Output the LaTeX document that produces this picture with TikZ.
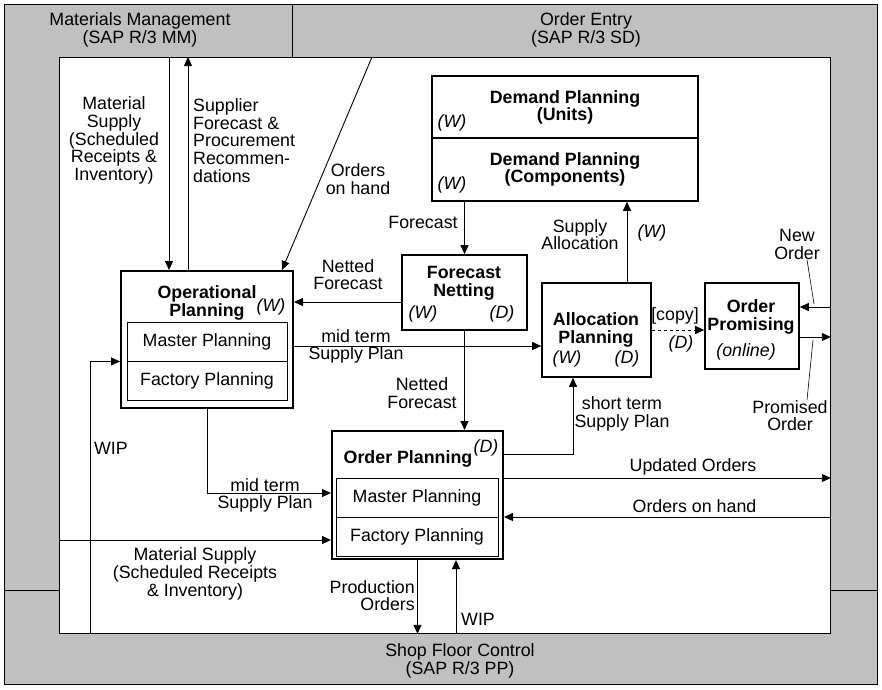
\documentclass[tikz,border=0pt]{standalone}
\usepackage{fontspec}
\setmainfont{Liberation Sans}
\usetikzlibrary{arrows.meta}
\definecolor{bandgray}{HTML}{C0C0C0}
\newcommand{\dsize}{\fontsize{17.8}{17.7}\selectfont}
\begin{document}
\begin{tikzpicture}[x=1pt,y=-1pt,font=\dsize,
  box/.style={draw,line width=1.6pt,inner sep=0pt},
  sub/.style={draw,line width=0.9pt,inner sep=0pt,minimum width=#1,minimum height=39pt},
  flow/.style={line width=0.9pt,-{Triangle[length=9pt,width=8pt]}},
  lbl/.style={inner sep=0pt,align=center},
  head/.style={inner sep=0pt,align=center,font=\dsize\bfseries},
  tag/.style={inner sep=0pt,font=\dsize\itshape}]
\useasboundingbox (0,0) rectangle (882,689);
% system bands
\fill[bandgray,draw=black,line width=0.8pt] (4,4) rectangle (877,684);
\draw[line width=0.8pt] (292,4) -- (292,57);
\draw[line width=0.8pt] (4,590) -- (59,590) (830,590) -- (877,590);
\node[draw,fill=white,line width=0.8pt,minimum width=771pt,minimum height=576pt,anchor=north west,inner sep=0pt] (work) at (59,57) {};
\node[lbl] (mm) at (140,30) {Materials Management\\(SAP R/3 MM)};
\node[lbl] (oe) at (586,30) {Order Entry\\(SAP R/3 SD)};
\node[lbl] (sfc) at (460,661) {Shop Floor Control\\(SAP R/3 PP)};
% planning boxes
\node[box,minimum width=266pt,minimum height=62pt] (dpu) at (565,107) {};
\node[box,minimum width=266pt,minimum height=63pt] (dpc) at (565,169.5) {};
\node[head] (dpuT) at (565,107.5) {Demand Planning\\(Units)};
\node[tag] (dpuW) at (452,123) {(W)};
\node[head] (dpcT) at (565,169.5) {Demand Planning\\(Components)};
\node[tag] (dpcW) at (452,185) {(W)};
\node[box,line width=2pt,minimum width=172pt,minimum height=137pt] (op) at (207,339.5) {};
\node[head] (opT) at (207,303) {Operational\\Planning};
\node[tag] (opW) at (271,307) {(W)};
\node[sub=160pt] (opm) at (207,341.5) {Master Planning};
\node[sub=160pt] (opf) at (207,380.5) {Factory Planning};
\node[box,minimum width=125pt,minimum height=75pt] (fn) at (464.5,292.5) {};
\node[head] (fnT) at (464,283) {Forecast\\Netting};
\node[tag] (fnW) at (423,314) {(W)};
\node[tag] (fnD) at (502,314) {(D)};
\node[box,minimum width=109pt,minimum height=94pt] (ap) at (596.5,330) {};
\node[head] (apT) at (596,330) {Allocation\\Planning};
\node[tag] (apW) at (567,359) {(W)};
\node[tag] (apD) at (627,359) {(D)};
\node[box,minimum width=94pt,minimum height=86pt] (opr) at (752,326) {};
\node[head] (oprT) at (751,317) {Order\\Promising};
\node[tag] (oprO) at (746,352) {(online)};
\node[box,line width=2pt,minimum width=171pt,minimum height=128pt] (ordp) at (417.5,495) {};
\node[head] (ordpT) at (408,459) {Order Planning};
\node[tag] (ordpD) at (486,448) {(D)};
\node[sub=162pt] (ordpm) at (417,497.5) {Master Planning};
\node[sub=162pt] (ordpf) at (417,536.5) {Factory Planning};
% connector ends
\coordinate (mmDown) at (169,57);
\coordinate (mmUp) at (188,57);
\coordinate (oeOrd) at (372,57);
\coordinate (opOrd) at (282,270);
\coordinate (nfY) at (0,302);
\coordinate (mtY) at (0,346);
\coordinate (saX) at (627,0);
\coordinate (noY) at (0,307);
\coordinate (poY) at (0,337);
\coordinate (st) at (573,454);
\coordinate (mt) at (0,493);
\coordinate (uoY) at (0,478);
\coordinate (ohY) at (0,517);
\coordinate (msY) at (0,540);
\coordinate (wipX) at (90,0);
\coordinate (wipY) at (456,0);
\coordinate (noTip) at (814,304);
\coordinate (poTip) at (813,340);
% flows
\draw[flow] (mmDown) -- (mmDown |- op.north);
\draw[flow] (mmUp |- op.north) -- (mmUp);
\draw[flow] (oeOrd) -- (opOrd);
\draw[flow] (fn.north |- dpc.south) -- (fn.north);
\draw[flow] (fn.west |- nfY) -- (op.east |- nfY);
\draw[flow] (op.east |- mtY) -- (ap.west |- mtY);
\draw[flow] (fn.south) -- (fn.south |- ordp.north);
\draw[flow] (ap.north -| saX) -- (dpc.south -| saX);
\draw[flow,dashed] (ap.east) -- (opr.west |- ap.east);
\draw[flow] (work.east |- noY) -- (opr.east |- noY);
\draw[flow] (opr.east |- poY) -- (work.east |- poY);
\draw[flow] (ordp.east |- st) -| (st |- ap.south);
\draw[flow] (op.south) |- (ordp.west |- mt);
\draw[flow] (ordp.east |- uoY) -- (work.east |- uoY);
\draw[flow] (work.east |- ohY) -- (ordp.east |- ohY);
\draw[flow] (work.west |- msY) -- (ordp.west |- msY);
\draw[flow] (wipX |- work.south) |- (op.west |- opm.south);
\draw[flow] (ordp.south) -- (ordp.south |- work.south);
\draw[flow] (wipY |- work.south) -- (wipY |- ordp.south);
% flow labels
\node[lbl] (msA) at (114,140.5) {Material\\Supply\\(Scheduled\\Receipts \&\\Inventory)};
\node[lbl,align=left,anchor=west] (sfA) at (193,140.5) {Supplier\\Forecast \&\\Procurement\\Recommen-\\dations};
\node[lbl] (ohA) at (358,179) {Orders\\on hand};
\node[lbl] (fcA) at (423,222) {Forecast};
\node[lbl] (nfA) at (348,274.5) {Netted\\Forecast};
\node[lbl] (mtA) at (356,346.5) {mid term\\Supply Plan};
\node[lbl] (nfB) at (422,393) {Netted\\Forecast};
\node[lbl] (saA) at (580,234.5) {Supply\\Allocation};
\node[tag] (saW) at (652,233) {(W)};
\node[lbl] (cpA) at (675,316) {[copy]};
\node[tag] (cpD) at (681,344) {(D)};
\node[lbl] (no) at (797,244.5) {New\\Order};
\node[lbl] (po) at (790,415.5) {Promised\\Order};
\draw[line width=0.6pt] ([xshift=10pt]no.south) -- (noTip);
\draw[line width=0.6pt] ([xshift=17pt]po.north) -- (poTip);
\node[lbl] (stA) at (622,414) {short term\\Supply Plan};
\node[lbl] (mtB) at (265,495.5) {mid term\\Supply Plan};
\node[lbl] (uoA) at (693,467) {Updated Orders};
\node[lbl] (ohB) at (694.5,506) {Orders on hand};
\node[lbl] (msB) at (195,574) {Material Supply\\(Scheduled Receipts\\\& Inventory)};
\node[lbl] (wipA) at (111,448) {WIP};
\node[lbl,align=right,anchor=east] (prA) at (415,595.5) {Production\\Orders};
\node[lbl] (wipB) at (478,619) {WIP};
\end{tikzpicture}
\end{document}
